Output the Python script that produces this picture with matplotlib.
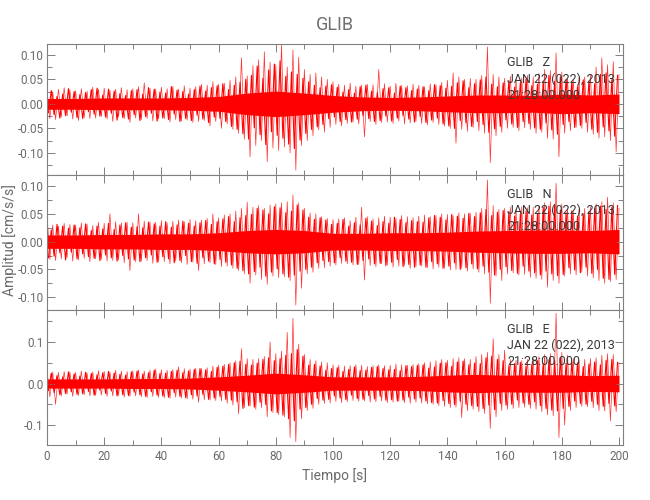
import numpy as np
import matplotlib
matplotlib.use("Agg")
import matplotlib.pyplot as plt
from matplotlib.ticker import MultipleLocator, AutoMinorLocator, FormatStrFormatter

plt.rcParams["font.family"] = ["Roboto", "DejaVu Sans"]

# Peak amplitude read on each whole second (alternating up / down swings), cm/s/s
trace_z = [
    0.028, -0.030, 0.025, -0.032, 0.030, -0.027, 0.033, -0.025, 0.029, -0.031,
    0.027, -0.034, 0.031, -0.028, 0.026, -0.030, 0.034, -0.029, 0.030, -0.026,
    0.032, -0.031, 0.028, -0.036, 0.030, -0.027, 0.033, -0.030, 0.029, -0.038,
    0.031, -0.029, 0.035, -0.032, 0.043, -0.030, 0.032, -0.035, 0.030, -0.031,
    0.034, -0.030, 0.031, -0.037, 0.036, -0.032, 0.030, -0.035, 0.037, -0.033,
    0.032, -0.038, 0.035, -0.036, 0.040, -0.034, 0.038, -0.045, 0.045, -0.036,
    0.040, -0.050, 0.042, -0.041, 0.048, -0.052, 0.055, -0.060, 0.094, -0.072,
    0.057, -0.108, 0.078, -0.085, 0.090, -0.075, 0.106, -0.118, 0.085, -0.090,
    0.080, -0.095, 0.122, -0.088, 0.075, -0.100, 0.110, -0.135, 0.095, -0.085,
    0.070, -0.075, 0.060, -0.065, 0.063, -0.053, 0.055, -0.058, 0.050, -0.048,
    0.045, -0.042, 0.040, -0.045, 0.038, -0.040, 0.042, -0.037, 0.036, -0.041,
    0.038, -0.067, 0.040, -0.036, 0.039, -0.042, 0.070, -0.038, 0.041, -0.037,
    0.036, -0.040, 0.042, -0.035, 0.038, -0.041, 0.037, -0.039, 0.040, -0.036,
    0.038, -0.040, 0.035, -0.043, 0.041, -0.038, 0.039, -0.042, 0.044, -0.045,
    0.048, -0.050, 0.063, -0.080, 0.055, -0.052, 0.050, -0.056, 0.052, -0.048,
    0.050, -0.055, 0.058, -0.060, 0.116, -0.120, 0.060, -0.065, 0.055, -0.058,
    0.052, -0.050, 0.056, -0.048, 0.050, -0.055, 0.053, -0.049, 0.058, -0.052,
    0.055, -0.060, 0.062, -0.058, 0.070, -0.070, 0.068, -0.072, 0.104, -0.108,
    0.065, -0.060, 0.052, -0.055, 0.050, -0.048, 0.053, -0.050, 0.055, -0.058,
    0.060, -0.062, 0.075, -0.070, 0.094, -0.067, 0.080, -0.075, 0.086, -0.098,
    0.060,
]
trace_n = [
    0.050, -0.032, 0.030, -0.034, 0.028, -0.031, 0.033, -0.029, 0.031, -0.035,
    0.030, -0.033, 0.034, -0.030, 0.032, -0.036, 0.029, -0.031, 0.035, -0.032,
    0.033, -0.035, 0.050, -0.034, 0.036, -0.033, 0.034, -0.038, 0.035, -0.052,
    0.034, -0.036, 0.050, -0.035, 0.037, -0.034, 0.036, -0.039, 0.035, -0.037,
    0.038, -0.036, 0.034, -0.040, 0.037, -0.035, 0.039, -0.038, 0.036, -0.041,
    0.040, -0.037, 0.038, -0.052, 0.039, -0.040, 0.042, -0.038, 0.050, -0.041,
    0.043, -0.045, 0.048, -0.044, 0.050, -0.048, 0.055, -0.052, 0.060, -0.058,
    0.071, -0.075, 0.062, -0.060, 0.065, -0.068, 0.060, -0.077, 0.066, -0.062,
    0.068, -0.065, 0.070, -0.063, 0.072, -0.070, 0.084, -0.114, 0.070, -0.084,
    0.060, -0.058, 0.052, -0.055, 0.050, -0.048, 0.045, -0.047, 0.042, -0.044,
    0.040, -0.042, 0.041, -0.039, 0.043, -0.040, 0.038, -0.042, 0.044, -0.041,
    0.062, -0.069, 0.045, -0.043, 0.041, -0.045, 0.043, -0.040, 0.046, -0.042,
    0.044, -0.046, 0.042, -0.044, 0.047, -0.043, 0.045, -0.048, 0.043, -0.045,
    0.046, -0.044, 0.048, -0.047, 0.045, -0.049, 0.047, -0.046, 0.050, -0.048,
    0.049, -0.051, 0.047, -0.050, 0.052, -0.048, 0.050, -0.053, 0.051, -0.049,
    0.053, -0.055, 0.060, -0.058, 0.111, -0.111, 0.065, -0.062, 0.058, -0.070,
    0.060, -0.058, 0.062, -0.056, 0.058, -0.060, 0.063, -0.059, 0.061, -0.064,
    0.062, -0.066, 0.064, -0.068, 0.070, -0.082, 0.072, -0.070, 0.105, -0.075,
    0.068, -0.062, 0.060, -0.058, 0.056, -0.060, 0.058, -0.055, 0.060, -0.062,
    0.063, -0.065, 0.068, -0.070, 0.072, -0.075, 0.080, -0.072, 0.070, -0.068,
    0.060,
]
trace_e = [
    0.030, -0.032, 0.028, -0.050, 0.027, -0.030, 0.029, -0.026, 0.028, -0.031,
    0.027, -0.029, 0.030, -0.027, 0.026, -0.030, 0.028, -0.029, 0.031, -0.028,
    0.029, -0.031, 0.028, -0.030, 0.032, -0.029, 0.030, -0.033, 0.029, -0.031,
    0.031, -0.030, 0.033, -0.032, 0.030, -0.034, 0.032, -0.031, 0.035, -0.033,
    0.033, -0.035, 0.032, -0.036, 0.034, -0.033, 0.040, -0.035, 0.036, -0.037,
    0.035, -0.038, 0.037, -0.045, 0.036, -0.039, 0.038, -0.040, 0.042, -0.041,
    0.044, -0.042, 0.046, -0.048, 0.050, -0.052, 0.055, -0.073, 0.084, -0.058,
    0.060, -0.055, 0.058, -0.062, 0.060, -0.058, 0.065, -0.080, 0.100, -0.070,
    0.072, -0.075, 0.078, -0.080, 0.123, -0.130, 0.157, -0.140, 0.095, -0.085,
    0.070, -0.065, 0.058, -0.060, 0.055, -0.050, 0.052, -0.048, 0.050, -0.047,
    0.045, -0.043, 0.044, -0.046, 0.042, -0.044, 0.043, -0.041, 0.045, -0.043,
    0.044, -0.042, 0.041, -0.045, 0.043, -0.044, 0.045, -0.042, 0.043, -0.046,
    0.044, -0.045, 0.047, -0.043, 0.045, -0.046, 0.044, -0.048, 0.046, -0.045,
    0.048, -0.047, 0.050, -0.049, 0.052, -0.050, 0.055, -0.053, 0.058, -0.055,
    0.056, -0.058, 0.060, -0.057, 0.062, -0.082, 0.060, -0.065, 0.058, -0.062,
    0.065, -0.068, 0.070, -0.072, 0.075, -0.108, 0.108, -0.080, 0.070, -0.065,
    0.080, -0.062, 0.058, -0.060, 0.056, -0.058, 0.055, -0.057, 0.058, -0.060,
    0.060, -0.062, 0.065, -0.068, 0.070, -0.075, 0.072, -0.078, 0.169, -0.130,
    0.075, -0.100, 0.068, -0.065, 0.060, -0.058, 0.056, -0.055, 0.058, -0.056,
    0.060, -0.058, 0.062, -0.065, 0.068, -0.066, 0.072, -0.090, 0.070, -0.068,
    0.050,
]

# smaller swings read on the half seconds (0.5, 1.5, ... 199.5 s)
mid_z = [
    -0.018, 0.027, -0.022, 0.015, -0.029, 0.020, -0.024, 0.031, -0.017, 0.025,
    -0.028, 0.019, -0.030, 0.023, -0.016, 0.029, -0.021, 0.032, -0.025, 0.018,
    -0.027, 0.030, -0.019, 0.026, -0.033, 0.021, -0.028, 0.017, -0.031, 0.027,
    -0.022, 0.029, -0.034, 0.020, -0.026, 0.033, -0.019, 0.030, -0.035, 0.024,
    -0.029, 0.022, -0.032, 0.035, -0.021, 0.028, -0.036, 0.025, -0.030, 0.020,
    -0.034, 0.029, -0.023, 0.036, -0.031, 0.026, -0.038, 0.033, -0.027, 0.037,
    -0.030, 0.041, -0.036, 0.029, -0.046, 0.038, -0.052, 0.044, -0.061, 0.050,
    -0.072, 0.058, -0.049, 0.077, -0.063, 0.052, -0.083, 0.069, -0.057, 0.081,
    -0.064, 0.088, -0.070, 0.056, -0.082, 0.065, -0.091, 0.060, -0.074, 0.052,
    -0.060, 0.045, -0.052, 0.038, -0.047, 0.033, -0.042, 0.036, -0.030, 0.039,
    -0.027, 0.034, -0.036, 0.024, -0.032, 0.029, -0.037, 0.022, -0.031, 0.035,
    -0.024, 0.038, -0.030, 0.026, -0.036, 0.023, -0.034, 0.031, -0.025, 0.033,
    -0.035, 0.022, -0.029, 0.036, -0.024, 0.033, -0.031, 0.027, -0.037, 0.030,
    -0.026, 0.035, -0.038, 0.027, -0.033, 0.039, -0.029, 0.037, -0.041, 0.032,
    -0.045, 0.036, -0.050, 0.043, -0.034, 0.047, -0.039, 0.033, -0.046, 0.041,
    -0.036, 0.049, -0.042, 0.055, -0.058, 0.040, -0.051, 0.035, -0.046, 0.043,
    -0.033, 0.047, -0.041, 0.034, -0.048, 0.043, -0.036, 0.050, -0.040, 0.037,
    -0.049, 0.040, -0.052, 0.045, -0.039, 0.058, -0.053, 0.046, -0.062, 0.055,
    -0.042, 0.050, -0.036, 0.045, -0.048, 0.035, -0.044, 0.049, -0.038, 0.046,
    -0.052, 0.041, -0.058, 0.060, -0.047, 0.063, -0.055, 0.049, -0.066, 0.058,
]
mid_n = [
    -0.029, 0.021, -0.026, 0.031, -0.020, 0.028, -0.033, 0.024, -0.019, 0.030,
    -0.031, 0.025, -0.022, 0.032, -0.027, 0.020, -0.030, 0.028, -0.034, 0.023,
    -0.024, 0.033, -0.029, 0.022, -0.035, 0.030, -0.025, 0.034, -0.031, 0.026,
    -0.033, 0.027, -0.036, 0.025, -0.029, 0.035, -0.024, 0.032, -0.037, 0.028,
    -0.027, 0.036, -0.031, 0.026, -0.038, 0.030, -0.034, 0.037, -0.025, 0.033,
    -0.036, 0.028, -0.039, 0.034, -0.029, 0.038, -0.035, 0.031, -0.040, 0.036,
    -0.032, 0.041, -0.037, 0.045, -0.042, 0.036, -0.048, 0.043, -0.052, 0.047,
    -0.058, 0.049, -0.054, 0.060, -0.046, 0.057, -0.062, 0.050, -0.055, 0.063,
    -0.049, 0.061, -0.058, 0.052, -0.064, 0.055, -0.060, 0.066, -0.053, 0.057,
    -0.050, 0.044, -0.046, 0.040, -0.038, 0.043, -0.034, 0.039, -0.036, 0.031,
    -0.038, 0.033, -0.029, 0.040, -0.035, 0.028, -0.037, 0.034, -0.041, 0.030,
    -0.034, 0.042, -0.031, 0.037, -0.040, 0.029, -0.039, 0.036, -0.043, 0.033,
    -0.037, 0.044, -0.032, 0.040, -0.045, 0.034, -0.041, 0.038, -0.046, 0.036,
    -0.042, 0.035, -0.046, 0.043, -0.036, 0.047, -0.040, 0.044, -0.048, 0.039,
    -0.044, 0.049, -0.038, 0.046, -0.050, 0.042, -0.047, 0.051, -0.040, 0.045,
    -0.049, 0.052, -0.044, 0.058, -0.055, 0.047, -0.060, 0.053, -0.050, 0.056,
    -0.045, 0.054, -0.052, 0.046, -0.057, 0.050, -0.044, 0.055, -0.053, 0.048,
    -0.056, 0.050, -0.060, 0.062, -0.053, 0.064, -0.058, 0.066, -0.061, 0.057,
    -0.059, 0.052, -0.047, 0.055, -0.051, 0.045, -0.056, 0.050, -0.046, 0.054,
    -0.057, 0.060, -0.050, 0.064, -0.066, 0.058, -0.068, 0.062, -0.059, 0.065,
]
mid_e = [
    -0.017, 0.025, -0.022, 0.019, -0.027, 0.016, -0.024, 0.028, -0.020, 0.023,
    -0.026, 0.018, -0.025, 0.027, -0.019, 0.024, -0.028, 0.021, -0.016, 0.026,
    -0.024, 0.029, -0.018, 0.025, -0.030, 0.022, -0.027, 0.020, -0.029, 0.028,
    -0.021, 0.030, -0.027, 0.023, -0.031, 0.026, -0.020, 0.032, -0.028, 0.024,
    -0.030, 0.025, -0.033, 0.029, -0.022, 0.032, -0.031, 0.026, -0.034, 0.030,
    -0.027, 0.034, -0.030, 0.036, -0.026, 0.033, -0.038, 0.029, -0.035, 0.039,
    -0.031, 0.042, -0.038, 0.046, -0.040, 0.050, -0.044, 0.054, -0.060, 0.046,
    -0.053, 0.044, -0.057, 0.049, -0.045, 0.058, -0.051, 0.062, -0.066, 0.055,
    -0.070, 0.060, -0.076, 0.068, -0.085, 0.072, -0.090, 0.082, -0.062, 0.066,
    -0.058, 0.044, -0.050, 0.046, -0.036, 0.042, -0.040, 0.032, -0.038, 0.036,
    -0.030, 0.038, -0.035, 0.029, -0.039, 0.034, -0.028, 0.040, -0.036, 0.031,
    -0.038, 0.032, -0.029, 0.039, -0.037, 0.041, -0.031, 0.036, -0.040, 0.033,
    -0.039, 0.034, -0.042, 0.031, -0.040, 0.043, -0.033, 0.041, -0.037, 0.044,
    -0.035, 0.045, -0.042, 0.037, -0.046, 0.040, -0.047, 0.049, -0.041, 0.050,
    -0.048, 0.041, -0.051, 0.052, -0.043, 0.054, -0.050, 0.045, -0.053, 0.049,
    -0.055, 0.048, -0.060, 0.062, -0.052, 0.066, -0.063, 0.058, -0.048, 0.055,
    -0.052, 0.043, -0.050, 0.048, -0.040, 0.051, -0.047, 0.042, -0.050, 0.046,
    -0.044, 0.055, -0.053, 0.048, -0.060, 0.057, -0.064, 0.055, -0.066, 0.062,
    -0.060, 0.049, -0.055, 0.052, -0.042, 0.050, -0.048, 0.041, -0.050, 0.047,
    -0.043, 0.052, -0.050, 0.045, -0.055, 0.056, -0.048, 0.058, -0.054, 0.051,
]

# half-width of the solid part of each trace, read every 10 s
core_z = [0.011, 0.011, 0.012, 0.012, 0.012, 0.013, 0.015, 0.022, 0.026, 0.022, 0.017,
          0.014, 0.013, 0.014, 0.016, 0.018, 0.018, 0.017, 0.020, 0.018, 0.020]
core_n = [0.012, 0.012, 0.013, 0.013, 0.014, 0.014, 0.016, 0.020, 0.022, 0.020, 0.015,
          0.015, 0.016, 0.016, 0.017, 0.019, 0.020, 0.021, 0.021, 0.020, 0.022]
core_e = [0.011, 0.011, 0.011, 0.012, 0.012, 0.013, 0.016, 0.020, 0.025, 0.021, 0.016,
          0.016, 0.016, 0.017, 0.020, 0.022, 0.020, 0.021, 0.021, 0.019, 0.020]

components = ["Z", "N", "E"]
traces = [trace_z, trace_n, trace_e]
mids = [mid_z, mid_n, mid_e]
cores = [core_z, core_n, core_e]
y_limits = [(-0.145, 0.122), (-0.123, 0.120), (-0.148, 0.177)]
y_ticks = [[-0.10, -0.05, 0.0, 0.05, 0.10], [-0.10, -0.05, 0.0, 0.05, 0.10], [-0.1, 0.0, 0.1]]
y_formats = ["%.2f", "%.2f", "%.1f"]

station = "GLIB"
date_text = "JAN 22 (022), 2013"
time_text = "21:28:00.000"

gray = "#6a6a6a"
red = "#ff0000"
fig = plt.figure(figsize=(6.5, 5), dpi=100)

left, width = 47 / 650, 576 / 650
panel_rows = [(0.65, 0.262), (0.38, 0.27), (0.11, 0.27)]

for k, comp in enumerate(components):
    bottom, height = panel_rows[k]
    ax = fig.add_axes([left, bottom, width, height])

    trace = np.array(traces[k])
    t = np.arange(len(trace))
    mid = np.array(mids[k])
    tm = np.arange(len(mid)) + 0.5
    core = np.array(cores[k])
    tc = np.arange(len(core)) * 10

    ax.fill_between(tc, -core, core, color=red, lw=0)
    ax.plot(tm, mid, color=red, lw=0.8)
    ax.plot(t, trace, color=red, lw=0.5, alpha=0.8)

    ax.set_xlim(0, 201.4)
    ax.set_ylim(*y_limits[k])
    ax.set_yticks(y_ticks[k])
    ax.yaxis.set_major_formatter(FormatStrFormatter(y_formats[k]))
    ax.yaxis.set_minor_locator(AutoMinorLocator(2))
    ax.xaxis.set_major_locator(MultipleLocator(20))
    ax.xaxis.set_minor_locator(MultipleLocator(10))
    ax.tick_params(which="both", direction="in", top=True, right=True,
                   color="#808080", labelcolor=gray, labelsize=8.5, width=0.7)
    ax.tick_params(which="major", length=6)
    ax.tick_params(which="minor", length=3.5)
    ax.tick_params(axis="y", pad=2.5)
    for sp in ax.spines.values():
        sp.set_color("#808080")
        sp.set_linewidth(0.8)
    if k < 2:
        ax.tick_params(labelbottom=False)
    else:
        ax.set_xlabel("Tiempo [s]", color=gray, fontsize=10, labelpad=4)
    if k == 0:
        ax.set_title(station, color="#707070", fontsize=13, pad=10)

    ax.text(161, 0.905, f"{station}   {comp}\n{date_text}\n{time_text}",
            transform=ax.get_xaxis_transform(), ha="left", va="top", zorder=5,
            color="#383838", fontsize=9, linespacing=1.3)

fig.text(10 / 650, 0.52, "Amplitud [cm/s/s]", rotation=90, ha="center", va="center",
         color=gray, fontsize=10)

fig.savefig("out.png", dpi=100)
